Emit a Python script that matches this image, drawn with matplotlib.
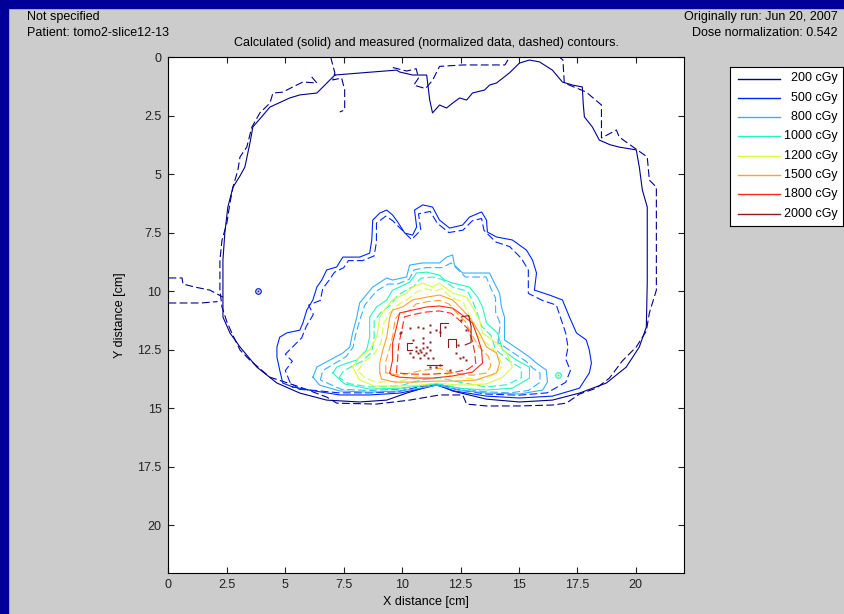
import numpy as np
import matplotlib.pyplot as plt
from matplotlib.patches import Rectangle

plt.rcParams['font.family'] = ['Liberation Sans', 'DejaVu Sans']

# dose levels and their colours
levels = [200, 500, 800, 1000, 1200, 1500, 1800, 2000]
colors = ['#00008F', '#0024FF', '#3AAEFF', '#22F5C4', '#D6FF3A', '#FFA22E', '#FF2A1E', '#8E1A1A']

# calculated contours (solid), points in cm
calc_200 = [[(7.12, 0.77), (6.35, 1.54), (5.62, 1.62), (5.19, 1.75), (4.34, 2.14), (3.95, 2.6), (3.61, 2.99),
             (3.50, 3.6), (3.27, 4.70), (3.05, 5.1), (2.76, 5.56), (2.54, 6.41), (2.41, 7.52), (2.33, 8.68),
             (2.33, 11.11), (2.63, 11.79), (3.06, 12.39), (3.78, 13.25), (4.64, 13.93), (5.62, 14.36),
             (6.77, 14.66), (8.18, 14.74), (9.34, 14.66), (10.19, 14.36), (10.88, 14.15), (11.47, 13.97),
             (12.16, 14.27), (13.61, 14.62), (15.02, 14.74), (16.43, 14.66), (17.59, 14.36), (18.74, 13.93),
             (19.59, 13.25), (20.15, 12.39), (20.45, 11.54), (20.49, 9.66), (20.49, 6.41), (20.28, 5.68),
             (20.15, 4.70), (20.02, 3.97), (19.6, 3.9), (19.29, 3.85), (18.9, 3.75), (18.44, 3.55),
             (18.14, 2.99), (17.95, 2.75), (17.80, 2.56), (17.75, 2.0), (17.71, 1.28), (17.3, 1.2), (16.86, 1.07),
             (16.43, 0.56), (15.88, 0.21), (15.45, 0.13), (15.02, 0.26), (14.59, 0.68), (14.04, 1.11),
             (13.74, 1.20), (13.53, 1.41), (13.01, 1.54), (12.76, 1.84), (12.46, 1.75), (12.16, 1.97),
             (11.90, 2.18), (11.60, 2.05), (11.30, 2.39), (11.18, 1.84), (11.05, 0.77), (10.45, 0.77),
             (9.89, 0.64), (9.76, 0.56), (8.74, 0.64), (7.12, 0.77)]]
calc_500 = [[(5.32, 14.10), (4.89, 13.93), (4.76, 13.38), (4.64, 12.82), (4.64, 12.39), (4.76, 11.97),
             (5.06, 11.79), (5.62, 11.67), (5.75, 11.37), (5.92, 10.81), (6.18, 10.38), (6.35, 9.83),
             (6.56, 9.53), (6.77, 9.10), (7.20, 8.97), (7.46, 8.55), (8.18, 8.55), (8.61, 8.38), (8.70, 7.82),
             (8.74, 6.97), (9.04, 6.67), (9.34, 6.54), (9.59, 6.75), (9.81, 7.05), (10.11, 7.52), (10.45, 7.61),
             (10.62, 7.26), (10.53, 6.54), (10.88, 6.32), (11.30, 6.41), (11.60, 6.97), (12.03, 7.31),
             (12.59, 7.18), (12.88, 6.84), (13.40, 6.62), (13.61, 6.97), (13.65, 7.48), (14.04, 7.69),
             (14.72, 7.82), (15.32, 8.25), (15.58, 8.68), (15.75, 9.23), (15.66, 9.96), (16.30, 10.17),
             (16.86, 10.38), (17.16, 11.11), (17.46, 11.79), (17.88, 12.09), (18.01, 12.52), (18.10, 13.08),
             (18.01, 13.50), (17.59, 14.15), (16.43, 14.49), (15.02, 14.57), (13.61, 14.49), (12.24, 14.27),
             (11.47, 14.02), (10.75, 14.19), (9.89, 14.36), (8.61, 14.44), (7.33, 14.44), (6.26, 14.27),
             (5.32, 14.10)]]
calc_800 = [[(6.18, 13.68), (6.35, 13.25), (6.90, 12.95), (7.46, 12.65), (7.76, 12.39), (7.88, 11.79),
             (8.06, 11.11), (8.18, 10.51), (8.74, 9.83), (9.34, 9.44), (9.59, 9.53), (10.19, 9.40),
             (10.32, 8.89), (10.88, 8.80), (11.60, 8.80), (11.90, 8.55), (12.16, 8.46), (12.24, 8.89),
             (12.59, 9.23), (13.74, 9.23), (13.95, 9.66), (14.17, 10.09), (14.25, 10.68), (14.38, 11.11),
             (14.38, 12.09), (15.02, 12.52), (15.45, 12.82), (15.75, 13.08), (16.17, 13.38), (16.22, 13.89),
             (16.01, 14.23), (15.02, 14.40), (13.61, 14.36), (12.46, 14.23), (11.47, 14.02), (10.75, 14.15),
             (9.89, 14.27), (8.61, 14.32), (7.33, 14.27), (6.47, 14.02), (6.18, 13.68)]]
calc_1000 = [[(7.03, 13.50), (7.20, 13.25), (7.63, 13.08), (8.06, 12.95), (8.48, 12.52), (8.61, 11.97),
              (8.61, 11.11), (8.91, 10.68), (9.34, 10.38), (9.59, 9.96), (9.89, 9.83), (10.32, 9.62),
              (10.62, 9.23), (11.05, 9.19), (11.60, 9.32), (11.82, 9.53), (12.16, 9.66), (12.88, 9.83),
              (13.23, 10.26), (13.44, 10.68), (13.61, 11.37), (14.08, 11.79), (14.30, 12.52), (14.89, 12.95),
              (15.45, 13.25), (15.45, 13.72), (14.72, 14.15), (13.61, 14.23), (12.46, 14.15), (11.47, 13.97),
              (10.75, 14.06), (9.89, 14.15), (8.61, 14.19), (7.54, 13.97), (7.03, 13.50)]]
calc_1200 = [[(7.88, 13.25), (8.18, 12.82), (8.61, 12.52), (8.91, 11.97), (9.04, 11.11), (9.34, 10.68),
              (9.59, 10.38), (10.19, 10.09), (10.45, 9.83), (10.88, 9.66), (11.30, 9.83), (11.60, 9.66),
              (12.16, 10.09), (12.76, 10.26), (13.01, 10.68), (13.31, 11.24), (13.44, 11.79), (14.04, 12.22),
              (14.47, 12.65), (14.72, 13.25), (14.30, 13.68), (13.61, 13.97), (12.46, 14.02), (11.47, 13.93),
              (10.75, 14.02), (9.89, 14.06), (8.82, 14.06), (8.18, 13.80), (7.88, 13.25)]]
calc_1500 = [[(9.04, 13.50), (9.04, 13.08), (9.17, 12.52), (9.34, 11.97), (9.47, 11.11), (9.59, 10.81),
              (10.02, 10.68), (10.45, 10.38), (11.05, 10.26), (11.60, 10.17), (12.16, 10.38), (12.46, 10.68),
              (12.88, 11.11), (13.31, 11.79), (13.61, 12.39), (14.04, 12.65), (14.17, 13.08), (14.04, 13.50),
              (13.18, 13.80), (12.24, 13.85), (11.39, 13.85), (10.53, 13.89), (9.68, 13.89), (9.12, 13.76),
              (9.04, 13.50)]]
calc_1800 = [[(9.47, 13.50), (9.59, 12.95), (9.59, 12.22), (9.76, 11.54), (9.89, 10.94), (10.45, 10.81),
              (11.05, 10.68), (11.60, 10.64), (12.16, 10.73), (12.46, 10.94), (13.01, 11.37), (13.23, 11.97),
              (13.40, 12.52), (13.44, 13.08), (13.01, 13.46), (12.16, 13.63), (11.30, 13.72), (10.53, 13.72),
              (9.89, 13.68), (9.55, 13.59), (9.47, 13.50)]]
calc_2000 = [[(10.42, 12.2), (10.2, 12.2), (10.2, 12.5), (10.42, 12.5)],
             [(11.6, 11.9), (11.6, 11.35), (11.95, 11.35)],
             [(11.95, 12.4), (11.95, 12.05), (12.3, 12.05), (12.3, 12.4)],
             [(12.55, 11.1), (12.85, 11.05), (12.95, 11.5), (12.95, 12.2), (12.7, 12.3)],
             [(11.05, 13.15), (11.7, 13.15)]]

# measured contours (dashed), points in cm
meas_200 = [[(6.13, 0.85), (6.35, 1.11), (5.75, 1.07), (5.32, 1.28), (4.89, 1.50), (4.47, 1.54), (4.34, 1.97),
             (3.91, 2.39), (3.57, 2.99), (3.35, 3.85), (3.06, 4.27), (2.97, 4.83), (2.76, 5.56), (2.63, 6.24),
             (2.50, 7.09), (2.29, 7.82), (2.20, 8.68), (2.20, 9.96), (2.29, 10.68), (2.50, 11.32), (2.71, 11.79),
             (3.06, 12.52), (3.48, 12.95), (4.34, 13.68), (5.62, 14.10), (6.77, 14.53), (7.20, 14.79),
             (8.90, 14.83), (10.32, 14.66), (11.60, 14.44), (12.59, 14.44), (12.76, 14.83), (13.61, 14.91),
             (15.02, 14.91), (16.43, 14.87), (17.03, 14.79), (17.59, 14.40), (18.31, 14.15), (18.87, 13.72),
             (19.42, 12.99), (20.02, 12.39), (20.45, 11.71), (20.58, 10.94), (20.88, 9.96), (20.88, 8.46),
             (20.88, 7.26), (20.88, 5.56), (20.58, 5.26), (20.49, 4.27), (20.06, 3.97), (19.29, 3.42),
             (19.17, 3.12), (18.53, 3.46), (18.53, 2.05), (17.88, 1.50), (16.94, 1.11), (16.88, 0.13),
             (16.73, 0.0)],
            [(6.94, 0.0), (7.12, 0.68), (7.03, 0.98), (7.41, 0.90), (7.54, 1.41), (7.54, 2.26), (7.33, 2.35)],
            [(9.6, 0.45), (10.2, 0.6), (10.6, 0.5), (10.7, 0.9), (10.5, 1.2), (11.0, 1.35), (11.3, 1.0),
             (11.6, 0.4), (12.6, 0.34), (14.4, 0.34), (14.6, 0.0)],
            [(0.0, 9.44), (0.58, 9.44), (0.62, 9.7), (1.13, 9.83), (1.77, 9.96), (2.33, 10.26)],
            [(0.0, 10.51), (1.4, 10.51), (2.1, 10.45)]]
meas_500 = [[(5.6, 14.2), (5.2, 13.9), (5.0, 13.4), (5.3, 13.0), (5.0, 12.7), (5.4, 12.3), (5.7, 12.0),
             (5.9, 11.5), (6.2, 11.0), (6.0, 10.6), (6.5, 10.4), (6.6, 9.9), (6.9, 9.5), (7.1, 9.2), (7.5, 9.0),
             (7.7, 8.7), (8.3, 8.7), (8.8, 8.5), (8.9, 7.9), (8.9, 7.1), (9.3, 6.8), (9.6, 7.0), (10.0, 7.4),
             (10.4, 7.8), (10.8, 7.4), (10.7, 6.7), (11.2, 6.6), (11.5, 7.1), (12.0, 7.5), (12.6, 7.4),
             (13.0, 7.0), (13.4, 6.9), (13.5, 7.4), (14.0, 7.9), (14.6, 8.1), (15.1, 8.6), (15.4, 9.1),
             (15.4, 10.1), (16.0, 10.4), (16.6, 10.6), (16.8, 11.2), (17.0, 11.8), (17.1, 12.4), (17.0, 12.9),
             (17.2, 13.4), (17.0, 13.9), (16.2, 14.35), (15.0, 14.45), (13.6, 14.4), (12.3, 14.2),
             (11.5, 13.95), (10.7, 14.1), (9.8, 14.3), (8.6, 14.35), (7.3, 14.35), (6.3, 14.25), (5.6, 14.2)]]
meas_800 = [[(6.5, 13.8), (6.6, 13.4), (7.1, 13.1), (7.6, 12.8), (7.9, 12.4), (8.0, 11.9), (8.2, 11.2),
             (8.4, 10.6), (8.9, 10.0), (9.4, 9.7), (9.8, 9.7), (10.3, 9.5), (10.5, 9.1), (11.0, 9.0),
             (11.7, 9.0), (12.1, 8.8), (12.4, 9.1), (12.7, 9.4), (13.6, 9.4), (13.8, 9.9), (14.0, 10.3),
             (14.0, 10.9), (14.2, 11.4), (14.1, 12.2), (14.7, 12.6), (15.3, 13.0), (15.6, 13.3), (15.9, 13.5),
             (15.9, 13.9), (15.4, 14.25), (14.6, 14.35), (13.5, 14.3), (12.4, 14.15), (11.5, 13.95),
             (10.7, 14.05), (9.8, 14.2), (8.6, 14.25), (7.4, 14.2), (6.5, 13.8)]]
meas_1000 = [[(7.3, 13.7), (7.5, 13.4), (7.9, 13.2), (8.3, 13.0), (8.7, 12.6), (8.8, 12.0), (8.8, 11.3),
              (9.1, 10.9), (9.5, 10.6), (9.8, 10.2), (10.1, 10.0), (10.5, 9.8), (10.8, 9.45), (11.3, 9.4),
              (11.7, 9.5), (12.2, 9.85), (12.8, 10.0), (13.0, 10.4), (13.2, 10.9), (13.4, 11.5), (13.8, 11.9),
              (14.0, 12.5), (14.6, 13.0), (15.1, 13.3), (15.1, 13.7), (14.5, 14.0), (13.6, 14.1), (12.5, 13.9),
              (11.6, 13.7), (10.8, 13.8), (9.9, 14.05), (8.6, 14.1), (7.7, 13.95), (7.3, 13.7)]]
meas_1200 = [[(8.1, 13.4), (8.4, 13.0), (8.8, 12.7), (9.1, 12.2), (9.2, 11.4), (9.5, 10.9), (9.8, 10.6),
              (10.3, 10.3), (10.6, 10.05), (11.0, 9.9), (11.4, 10.0), (11.7, 9.9), (12.1, 10.3), (12.6, 10.45),
              (12.8, 10.9), (13.1, 11.4), (13.2, 11.9), (13.7, 12.3), (14.1, 12.7), (14.3, 13.2), (14.0, 13.5),
              (13.5, 13.8), (12.5, 13.7), (11.6, 13.5), (10.8, 13.6), (9.9, 13.85), (8.9, 13.9), (8.4, 13.7),
              (8.1, 13.4)]]
meas_1500 = [[(9.3, 13.5), (9.3, 13.0), (9.45, 12.5), (9.6, 11.9), (9.7, 11.2), (9.9, 10.95), (10.3, 10.85),
              (10.6, 10.55), (11.1, 10.45), (11.6, 10.4), (12.0, 10.55), (12.3, 10.9), (12.7, 11.3), (13.0, 11.9),
              (13.3, 12.4), (13.7, 12.8), (13.8, 13.2), (13.6, 13.5), (13.0, 13.6), (12.2, 13.5), (11.6, 13.3),
              (10.8, 13.4), (9.9, 13.6), (9.3, 13.5)]]
meas_1800 = [[(9.75, 13.5), (9.8, 13.0), (9.85, 12.3), (10.0, 11.6), (10.1, 11.1), (10.5, 11.0), (11.0, 10.9),
              (11.6, 10.85), (12.1, 10.95), (12.4, 11.2), (12.8, 11.6), (13.0, 12.1), (13.1, 12.6), (13.15, 13.1),
              (12.8, 13.35), (12.1, 13.5), (11.3, 13.55), (10.5, 13.55), (9.75, 13.5)]]
meas_2000 = []

# isolated 2000 cGy specks inside the high dose region
specks_x = [9.97, 9.89, 10.68, 10.89, 11.18, 11.46, 11.60, 11.82, 10.46, 10.61, 10.75, 10.89, 10.68, 11.03,
            11.18, 11.32, 10.32, 10.46, 11.46, 11.60, 11.18, 12.32, 12.46, 12.60, 12.74, 12.03, 10.89, 11.18,
            12.38, 12.53, 12.74, 10.32, 11.18, 10.8, 10.95, 11.05, 10.6, 10.9, 11.1, 10.75]
specks_y = [11.74, 11.81, 11.52, 11.59, 11.45, 11.67, 11.74, 11.52, 12.09, 12.38, 12.52, 12.45, 12.66, 12.66,
            12.52, 12.88, 12.66, 12.81, 13.24, 13.16, 13.24, 12.66, 12.88, 12.81, 12.95, 13.38, 11.99, 12.17,
            12.31, 11.24, 11.67, 11.59, 11.74, 12.6, 12.75, 12.4, 12.55, 12.2, 12.85, 12.85]

# small hot spots outside the target
spot_x = [3.83, 16.65]
spot_y = [10.0, 13.6]
spot_ring = ['#0024FF', '#22F5C4']
spot_core = ['#8E1A1A', '#FFA22E']

calc = [calc_200, calc_500, calc_800, calc_1000, calc_1200, calc_1500, calc_1800, calc_2000]
meas = [meas_200, meas_500, meas_800, meas_1000, meas_1200, meas_1500, meas_1800, meas_2000]

W, H = 845, 614
fig = plt.figure(figsize=(W / 100, H / 100), dpi=100, facecolor='#CCCCCC')
fig.patches.append(Rectangle((0, 1 - 8 / H), 1, 8 / H, transform=fig.transFigure, color='#000099', zorder=0))
fig.patches.append(Rectangle((0, 0), 8 / W, 1, transform=fig.transFigure, color='#000099', zorder=0))

ax = fig.add_axes([168.5 / W, (H - 573.3) / H, 515.2 / W, 516.3 / H])
ax.set_facecolor('white')

for col, cl, ml in zip(colors, calc, meas):
    for line in cl:
        xs, ys = zip(*line)
        ax.plot(xs, ys, color=col, lw=0.8)
    for line in ml:
        xs, ys = zip(*line)
        ax.plot(xs, ys, color=col, lw=0.8, ls=(0, (7, 3)))

ax.plot(specks_x, specks_y, ls='none', marker='s', ms=1.8, mec='none', mfc=colors[-1])
for sx, sy, rc, cc in zip(spot_x, spot_y, spot_ring, spot_core):
    ax.plot(sx, sy, marker='o', ms=4, mfc='none', mec=rc, mew=0.9)
    ax.plot(sx, sy, marker='s', ms=1.8, mfc=cc, mec='none')

ax.set_xlim(0, 22.05)
ax.set_ylim(22.06, 0)
ticks = [0, 2.5, 5, 7.5, 10, 12.5, 15, 17.5, 20]
ticklabels = ['0', '2.5', '5', '7.5', '10', '12.5', '15', '17.5', '20']
ax.set_xticks(ticks, ticklabels)
ax.set_yticks(ticks, ticklabels)
ax.tick_params(direction='in', length=4, width=0.8, top=True, right=True, labelsize=9, colors='#222222')
ax.tick_params(axis='x', pad=4)
ax.tick_params(axis='y', pad=5)
for s in ax.spines.values():
    s.set_linewidth(0.8)
ax.set_xlabel('X distance [cm]', fontsize=9, labelpad=4)
ax.set_ylabel('Y distance [cm]', fontsize=9, labelpad=8)
ax.set_title('Calculated (solid) and measured (normalized data, dashed) contours.', fontsize=9, pad=8)

fig.text(27 / W, 1 - 17 / H, 'Not specified', fontsize=9, va='center', ha='left')
fig.text(27 / W, 1 - 33 / H, 'Patient: tomo2-slice12-13', fontsize=9, va='center', ha='left')
fig.text(838 / W, 1 - 17 / H, 'Originally run: Jun 20, 2007', fontsize=9, va='center', ha='right')
fig.text(838 / W, 1 - 33 / H, 'Dose normalization: 0.542', fontsize=9, va='center', ha='right')

# legend box drawn by hand, MATLAB style
lg = fig.add_axes([730 / W, (H - 226) / H, 113 / W, 159 / H])
lg.set_xlim(730, 843)
lg.set_ylim(226, 67)
lg.set_xticks([])
lg.set_yticks([])
for s in lg.spines.values():
    s.set_linewidth(0.8)
for i, (lev, col) in enumerate(zip(levels, colors)):
    yy = 78.5 + i * 19.3
    lg.plot([738, 780], [yy, yy], color=col, lw=1.0)
    lg.text(838, yy, f'{lev} cGy', fontsize=9, ha='right', va='center')

fig.savefig('out.png', dpi=100, facecolor=fig.get_facecolor())
